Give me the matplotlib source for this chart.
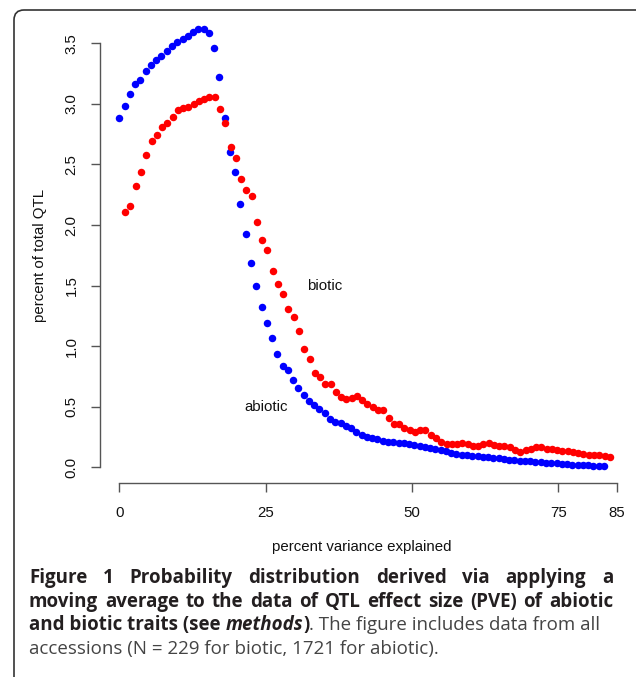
import matplotlib; matplotlib.use("Agg")
import matplotlib.pyplot as plt
from matplotlib.patches import FancyBboxPatch

# moving-average PVE distribution
abiotic_x = [0.0, 0.9, 1.8, 2.7, 3.6, 4.5, 5.4, 6.3, 7.2, 8.1, 9.0, 9.9, 10.8, 11.7, 12.6, 13.5,
             14.4, 15.3, 16.2, 17.1, 18.0, 18.9, 19.8, 20.7, 21.6, 22.5, 23.4, 24.3, 25.2, 26.1,
             27.0, 27.9, 28.8, 29.7, 30.6, 31.5, 32.4, 33.3, 34.2, 35.1, 36.0, 36.9, 37.8, 38.7,
             39.6, 40.5, 41.4, 42.3, 43.2, 44.1, 45.0, 45.9, 46.8, 47.7, 48.6, 49.5, 50.4, 51.3,
             52.2, 53.1, 54.0, 54.9, 55.8, 56.7, 57.6, 58.5, 59.4, 60.3, 61.2, 62.1, 63.0, 63.9,
             64.8, 65.7, 66.6, 67.5, 68.4, 69.3, 70.2, 71.1, 72.0, 72.9, 73.8, 74.7, 75.6, 76.5,
             77.4, 78.3, 79.2, 80.1, 81.0, 81.9, 82.8]
abiotic_y = [2.886, 2.985, 3.082, 3.162, 3.200, 3.274, 3.318, 3.362, 3.395, 3.437, 3.475, 3.508,
             3.536, 3.563, 3.591, 3.616, 3.616, 3.585, 3.464, 3.222, 2.883, 2.600, 2.440, 2.171,
             1.928, 1.689, 1.499, 1.323, 1.189, 1.067, 0.935, 0.839, 0.803, 0.721, 0.655, 0.594,
             0.545, 0.512, 0.479, 0.451, 0.401, 0.374, 0.363, 0.343, 0.322, 0.291, 0.269, 0.253,
             0.242, 0.231, 0.216, 0.211, 0.208, 0.203, 0.198, 0.194, 0.184, 0.173, 0.168, 0.162,
             0.150, 0.140, 0.132, 0.121, 0.110, 0.104, 0.099, 0.093, 0.091, 0.088, 0.083, 0.079,
             0.074, 0.071, 0.064, 0.058, 0.055, 0.052, 0.050, 0.044, 0.041, 0.038, 0.035, 0.033,
             0.030, 0.026, 0.022, 0.019, 0.017, 0.017, 0.014, 0.011, 0.010]
biotic_x = [1.0, 1.9, 2.8, 3.7, 4.6, 5.5, 6.4, 7.3, 8.2, 9.1, 10.0, 10.9, 11.8, 12.7, 13.6, 14.5,
            15.4, 16.3, 17.2, 18.1, 19.0, 19.9, 20.8, 21.7, 22.6, 23.5, 24.4, 25.3, 26.2, 27.1,
            28.0, 28.9, 29.8, 30.7, 31.6, 32.5, 33.4, 34.3, 35.2, 36.1, 37.0, 37.9, 38.8, 39.7,
            40.6, 41.5, 42.4, 43.3, 44.2, 45.1, 46.0, 46.9, 47.8, 48.7, 49.6, 50.5, 51.4, 52.3,
            53.2, 54.1, 55.0, 55.9, 56.8, 57.7, 58.6, 59.5, 60.4, 61.3, 62.2, 63.1, 64.0, 64.9,
            65.8, 66.7, 67.6, 68.5, 69.4, 70.3, 71.2, 72.1, 73.0, 73.9, 74.8, 75.7, 76.6, 77.5,
            78.4, 79.3, 80.2, 81.1, 82.0, 82.9, 83.8]
biotic_y = [2.110, 2.157, 2.322, 2.435, 2.581, 2.696, 2.746, 2.809, 2.842, 2.891, 2.947, 2.963,
            2.977, 2.999, 3.024, 3.040, 3.054, 3.057, 2.958, 2.842, 2.647, 2.551, 2.382, 2.287,
            2.237, 2.025, 1.879, 1.796, 1.618, 1.516, 1.433, 1.307, 1.241, 1.125, 0.979, 0.894,
            0.781, 0.748, 0.688, 0.688, 0.619, 0.583, 0.564, 0.570, 0.589, 0.556, 0.523, 0.500,
            0.473, 0.470, 0.410, 0.360, 0.357, 0.325, 0.310, 0.295, 0.308, 0.308, 0.265, 0.240,
            0.212, 0.192, 0.192, 0.192, 0.198, 0.196, 0.180, 0.175, 0.195, 0.198, 0.188, 0.180,
            0.172, 0.167, 0.140, 0.129, 0.145, 0.149, 0.165, 0.165, 0.149, 0.149, 0.147, 0.135,
            0.135, 0.130, 0.120, 0.112, 0.103, 0.099, 0.099, 0.092, 0.082]
xticks = [0, 25, 50, 75, 85]
yticks = [0.0, 0.5, 1.0, 1.5, 2.0, 2.5, 3.0, 3.5]

W, H = 636, 677
fig = plt.figure(figsize=(W/100, H/100), dpi=100)
AX = ['Liberation Sans', 'DejaVu Sans']
CAP = ['Open Sans', 'DejaVu Sans']

# axes box in pixels: left 100, right 630, top 25, bottom 482.7
ax = fig.add_axes([100/W, 1-482.7/H, 530/W, (482.7-25)/H])
ax.set_xlim(-3.30, 87.25); ax.set_ylim(-0.127, 3.651)
ax.plot(abiotic_x, abiotic_y, 'o', color='#0000ff', ms=5.4, mew=0)
ax.plot(biotic_x, biotic_y, 'o', color='#ff0000', ms=5.4, mew=0)
ax.text(35, 1.5, "biotic", ha='center', va='center', fontsize=10.8, family=AX, color='#111')
ax.text(25, 0.5, "abiotic", ha='center', va='center', fontsize=10.8, family=AX, color='#111')

for side in ('top', 'right'): ax.spines[side].set_visible(False)
for side in ('left', 'bottom'):
    ax.spines[side].set_color('#555'); ax.spines[side].set_linewidth(1.0)
ax.spines['left'].set_bounds(0, 3.5); ax.spines['bottom'].set_bounds(0, 85)
ax.set_xticks(xticks); ax.set_xticklabels([str(t) for t in xticks])
ax.set_yticks(yticks); ax.set_yticklabels([f"{t:.1f}" for t in yticks], rotation=90, va='center')
ax.tick_params(direction='out', length=6.5, width=1.0, color='#555', labelsize=10.8,
               labelcolor='#111')
ax.tick_params(axis='x', pad=10)
ax.tick_params(axis='y', pad=9)
for lab in ax.get_xticklabels() + ax.get_yticklabels(): lab.set_family(AX)
ax.patch.set_alpha(0)

fig.text(362/W, 1-547/H, "percent variance explained", ha='center', va='center',
         fontsize=10.8, family=AX, color='#111')
fig.text(40/W, 1-255/H, "percent of total QTL", ha='center', va='center', rotation=90,
         fontsize=10.8, family=AX, color='#111')

# rounded frame around figure + caption
fig.patches.append(FancyBboxPatch((0.14, -0.2), 6.5, 6.67+0.2, boxstyle="round,pad=0,rounding_size=0.1",
                                  transform=fig.dpi_scale_trans, fill=False, ec='#333', lw=1.2))

# caption, justified like the journal layout
r = fig.canvas.get_renderer()
def put(x, y, s, **kw):
    t = fig.text(x/W, 1-y/H, s, ha='left', va='baseline', family=CAP, **kw)
    return t, t.get_window_extent(r).width

probe, w10 = put(0, 0, "accessions (N = 229 for biotic, 1721 for abiotic).", fontsize=10)
probe.remove()
FS = 10*410/w10
BOLD = dict(fontsize=FS, weight='bold', color='#231f20')
REG = dict(fontsize=FS, color='#444')

def justify(line, y, x0=29, x1=613):
    words = line.split()
    ts = [put(0, y, wd, **BOLD) for wd in words]
    gap = (x1-x0-sum(w for _, w in ts))/(len(ts)-1)
    x = x0
    for t, w in ts:
        t.set_x(x/W); x += w + gap

justify("Figure 1 Probability distribution derived via applying a", 583)
justify("moving average to the data of QTL effect size (PVE) of abiotic", 607)
x = 29
for s, kw in [("and biotic traits (see ", BOLD), ("methods", dict(BOLD, style='italic')),
              (")", BOLD), (". The figure includes data from all", REG)]:
    t, w = put(x, 630, s, **kw); x += w
put(29, 654, "accessions (N = 229 for biotic, 1721 for abiotic).", **REG)

fig.savefig("out.png", dpi=100, facecolor='white')
